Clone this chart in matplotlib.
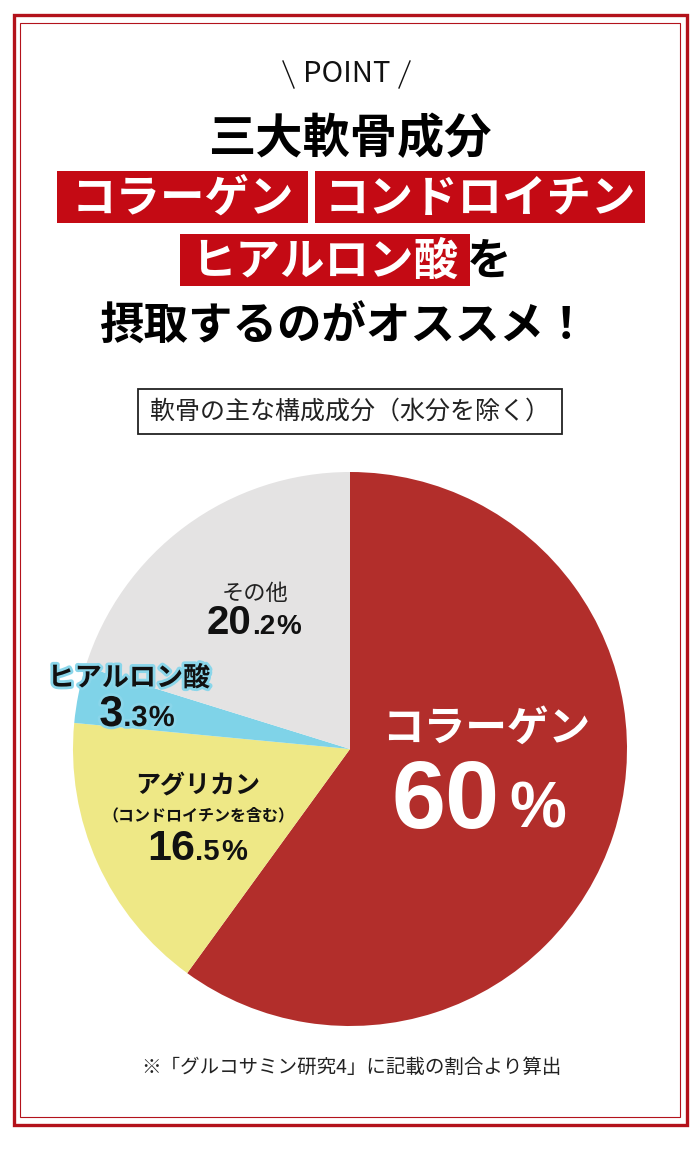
# -*- coding:utf-8 -*-
import matplotlib
matplotlib.use("Agg")
from matplotlib import pyplot as plt
from matplotlib import patheffects
from matplotlib.patches import Rectangle

# データ: 軟骨の主な構成成分（水分を除く）
labels = ["コラーゲン", "アグリカン", "ヒアルロン酸", "その他"]
values = [60, 16.5, 3.3, 20.2]
colors = ["#B22E2B", "#EEE886", "#7FD3E8", "#E4E3E3"]

JP = "Noto Sans CJK JP"
NUM = "Liberation Sans"
W, H = 700, 1149

fig = plt.figure(figsize=(W / 100, H / 100), dpi=100)

# 円グラフ
cx, cy, rad = 350, 749, 277
axp = fig.add_axes([(cx - rad) / W, (H - cy - rad) / H, 2 * rad / W, 2 * rad / H])
axp.pie(values, colors=colors, startangle=90, counterclock=False,
        wedgeprops=dict(linewidth=0))
axp.set_xlim(-1, 1)
axp.set_ylim(-1, 1)
axp.axis("off")

# 文字用の全面レイヤー（ピクセル座標）
ax = fig.add_axes([0, 0, 1, 1])
ax.set_xlim(0, W)
ax.set_ylim(H, 0)
ax.axis("off")
ax.patch.set_alpha(0)


def put_runs(x, y, parts, color="black", **kw):
    """複数サイズの文字列を1行に並べて中央揃え"""
    rend = fig.canvas.get_renderer()
    ts = []
    for s, size, fam, gap in parts:
        t = ax.text(0, y, s, fontsize=size, family=[fam, "DejaVu Sans"],
                    fontweight="bold", color=color, va="baseline", ha="left", **kw)
        ts.append((t, gap))
    ws = [t.get_window_extent(rend).width + g for t, g in ts]
    x0 = x - sum(ws) / 2
    for (t, g), w in zip(ts, ws):
        t.set_x(x0 + g)
        x0 += w


def value_parts(v, big, small):
    s = f"{v:g}"
    if "." in s:
        i, d = s.split(".")
        return [(i, big, NUM, 0), ("." + d, small, NUM, 0), ("%", small, NUM, 1)]
    return [(s, big, NUM, 0), ("%", small, NUM, 10)]


# 枠線
red = "#B3121B"
ax.add_patch(Rectangle((13.5, 15), 673, 1110, fill=False, ec=red, lw=2.4))
ax.add_patch(Rectangle((20, 23), 660, 1094, fill=False, ec=red, lw=0.8))

# \POINT/
ax.text(347, 74, "POINT", fontsize=21, family=JP, color="#111111", ha="center", va="center")
ax.plot([283, 294], [61, 88], color="#111111", lw=1)
ax.plot([410, 399], [61, 88], color="#111111", lw=1)

# 見出し
ax.text(350, 139, "三大軟骨成分", fontsize=34, family=JP, fontweight="bold",
        color="black", ha="center", va="center")

boxred = "#C40A14"
boxes = [("コラーゲン", 57, 171, 308, 223),
         ("コンドロイチン", 315, 171, 645, 223),
         ("ヒアルロン酸", 180, 234, 470, 286)]
for txt, x0, y0, x1, y1 in boxes:
    ax.add_patch(Rectangle((x0, y0), x1 - x0, y1 - y0, color=boxred, lw=0))
    ax.text((x0 + x1) / 2, (y0 + y1) / 2 + 2, txt, fontsize=32, family=JP,
            fontweight="bold", color="white", ha="center", va="center")
ax.text(489, 262, "を", fontsize=32, family=JP, fontweight="bold",
        color="black", ha="center", va="center")
ax.text(344, 327, "摂取するのがオススメ！", fontsize=32, family=JP, fontweight="bold",
        color="black", ha="center", va="center")

# サブタイトル
ax.add_patch(Rectangle((138, 389), 424, 45, fill=False, ec="#222222", lw=1.3))
ax.text(350, 412, "軟骨の主な構成成分（水分を除く）", fontsize=18, family=JP,
        color="#222222", ha="center", va="center")

# ラベル
# コラーゲン
ax.text(486, 729, labels[0], fontsize=30, family=JP, fontweight="bold",
        color="white", ha="center", va="center")
put_runs(479, 828, value_parts(values[0], 70, 46), color="white")

# アグリカン
ax.text(198, 786, labels[1], fontsize=18, family=JP, fontweight="bold",
        color="#111111", ha="center", va="center")
ax.text(198, 815, "（コンドロイチンを含む）", fontsize=11.5, family=JP, fontweight="bold",
        color="#111111", ha="center", va="center")
put_runs(197, 860, value_parts(values[1], 31, 21), color="#111111")

# ヒアルロン酸
glow = [patheffects.withStroke(linewidth=4, foreground="#8AD6EA")]
ax.text(129, 678, labels[2], fontsize=19.5, family=JP, fontweight="bold",
        color="#111111", ha="center", va="center", path_effects=glow)
put_runs(137, 726, value_parts(values[2], 31, 21), color="#111111", path_effects=glow)

# その他
ax.text(255, 594, labels[3], fontsize=16, family=JP, color="#222222",
        ha="center", va="center")
put_runs(254, 634, value_parts(values[3], 29, 20), color="#111111")

# 注釈
ax.text(351, 1067, "※「グルコサミン研究4」に記載の割合より算出", fontsize=14, family=JP,
        color="#222222", ha="center", va="center")

plt.savefig("out.png", dpi=100, facecolor="white")
